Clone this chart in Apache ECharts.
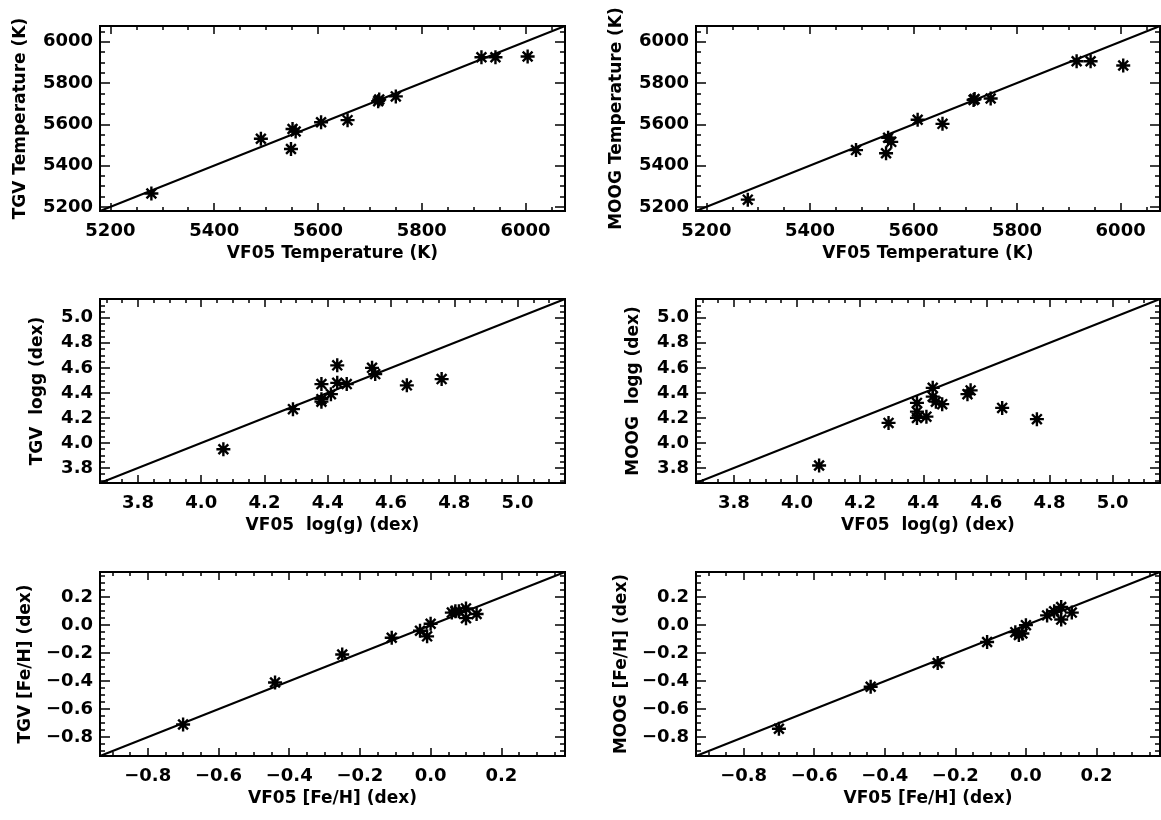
<!DOCTYPE html>
<html><head><meta charset="utf-8">
<script src="https://cdn.jsdelivr.net/npm/echarts@6/dist/echarts.min.js"></script>
<style>html,body{margin:0;padding:0;background:#fff}#c{width:1161px;height:820px}</style>
</head><body><div id="c"></div>
<script>
// ---- data ----
const teffVf05A = [5279, 5490, 5548, 5551, 5557, 5606, 5657, 5716, 5718, 5750, 5915, 5942, 6004];
const teffTgv   = [5265, 5530, 5480, 5577, 5565, 5610, 5620, 5712, 5720, 5735, 5925, 5925, 5928];
const teffVf05B = [5280, 5489, 5547, 5551, 5557, 5608, 5656, 5716, 5718, 5749, 5915, 5942, 6005];
const teffMoog  = [5235, 5475, 5460, 5535, 5515, 5622, 5602, 5718, 5722, 5725, 5905, 5905, 5885];

const loggVf05A = [4.07, 4.29, 4.38, 4.38, 4.38, 4.41, 4.43, 4.43, 4.46, 4.54, 4.55, 4.65, 4.76];
const loggTgv   = [3.95, 4.27, 4.47, 4.35, 4.33, 4.39, 4.62, 4.48, 4.47, 4.60, 4.55, 4.46, 4.51];
const loggVf05B = [4.07, 4.29, 4.38, 4.38, 4.38, 4.41, 4.43, 4.43, 4.44, 4.46, 4.54, 4.55, 4.65, 4.76];
const loggMoog  = [3.82, 4.16, 4.32, 4.25, 4.20, 4.21, 4.44, 4.37, 4.33, 4.31, 4.39, 4.42, 4.28, 4.19];

const fehVf05A = [-0.70, -0.44, -0.25, -0.11, -0.03, -0.01, 0.00, 0.06, 0.07, 0.08, 0.10, 0.10, 0.13];
const fehTgv   = [-0.71, -0.41, -0.21, -0.09, -0.04, -0.08, 0.01, 0.09, 0.10, 0.10, 0.12, 0.05, 0.08];
const fehVf05B = [-0.70, -0.44, -0.25, -0.11, -0.03, -0.02, -0.01, 0.00, 0.06, 0.08, 0.10, 0.10, 0.13];
const fehMoog  = [-0.74, -0.44, -0.27, -0.12, -0.05, -0.07, -0.06, 0.00, 0.07, 0.10, 0.13, 0.04, 0.09];

// axis ranges and tick labels
const teffRange = [5180, 6076];
const loggRange = [3.68, 5.15];
const fehRange  = [-0.935, 0.38];
const teffTicks = [5200, 5400, 5600, 5800, 6000];
const loggTicks = [3.8, 4.0, 4.2, 4.4, 4.6, 4.8, 5.0];
const fehTicks  = [-0.8, -0.6, -0.4, -0.2, 0.0, 0.2];
const teffMinorStep = 50, loggMinorStep = 0.05, fehMinorStep = 0.05;

// ---- build ----
const FONT = 'DejaVu Sans';
const STAR = 'path://M10,0L10,20M0,10L20,10M3,3L17,17M3,17L17,3';

function minorList(range, step) {
  const out = [];
  const start = Math.ceil(range[0] / step - 1e-9);
  const end = Math.floor(range[1] / step + 1e-9);
  for (let k = start; k <= end; k++) out.push(+(k * step).toFixed(6));
  return out;
}

const panels = [
  {left: 100, top: 26, width: 465, height: 185, range: teffRange, ticks: teffTicks, step: teffMinorStep, dec: 0,
   xs: teffVf05A, ys: teffTgv, xName: 'VF05 Temperature (K)', yName: 'TGV Temperature (K)', yGap: 71},
  {left: 696, top: 26, width: 464, height: 185, range: teffRange, ticks: teffTicks, step: teffMinorStep, dec: 0,
   xs: teffVf05B, ys: teffMoog, xName: 'VF05 Temperature (K)', yName: 'MOOG Temperature (K)', yGap: 71},
  {left: 100, top: 299, width: 465, height: 184, range: loggRange, ticks: loggTicks, step: loggMinorStep, dec: 1,
   xs: loggVf05A, ys: loggTgv, xName: 'VF05  log(g) (dex)', yName: 'TGV  logg (dex)', yGap: 54},
  {left: 696, top: 299, width: 464, height: 184, range: loggRange, ticks: loggTicks, step: loggMinorStep, dec: 1,
   xs: loggVf05B, ys: loggMoog, xName: 'VF05  log(g) (dex)', yName: 'MOOG  logg (dex)', yGap: 54},
  {left: 100, top: 572, width: 465, height: 184, range: fehRange, ticks: fehTicks, step: fehMinorStep, dec: 1,
   xs: fehVf05A, ys: fehTgv, xName: 'VF05 [Fe/H] (dex)', yName: 'TGV [Fe/H] (dex)', yGap: 66},
  {left: 696, top: 572, width: 464, height: 184, range: fehRange, ticks: fehTicks, step: fehMinorStep, dec: 1,
   xs: fehVf05B, ys: fehMoog, xName: 'VF05 [Fe/H] (dex)', yName: 'MOOG [Fe/H] (dex)', yGap: 66}
];

const grid = [], xAxis = [], yAxis = [], series = [];
const textStyle = {fontFamily: FONT, fontSize: 17, fontWeight: 'bold', color: '#000'};

panels.forEach((p, gi) => {
  grid.push({left: p.left, top: p.top, width: p.width, height: p.height, show: true,
             borderColor: '#000', borderWidth: 2, backgroundColor: 'transparent'});
  const minors = minorList(p.range, p.step);
  const fmt = v => Number(v).toFixed(p.dec).replace('-', '\u2212');
  function ax(dim, pos, ticks, len, withLabel) {
    const a = {
      type: 'value', gridIndex: gi, position: pos, min: p.range[0], max: p.range[1],
      axisLine: {show: false, onZero: false}, splitLine: {show: false},
      axisTick: {show: true, inside: true, length: len, customValues: ticks,
                 lineStyle: {color: '#000', width: 1.5}},
      axisLabel: {show: false}
    };
    if (withLabel) {
      a.axisLabel = Object.assign({show: true, customValues: p.ticks, formatter: fmt,
                    margin: dim === 'x' ? 11 : 7}, textStyle, {fontSize: 18});
      a.name = dim === 'x' ? p.xName : p.yName;
      a.nameLocation = 'middle';
      a.nameGap = dim === 'x' ? 34 : p.yGap;
      a.nameTextStyle = Object.assign({}, textStyle);
    }
    return a;
  }
  const xBase = xAxis.length, yBase = yAxis.length;
  xAxis.push(ax('x', 'bottom', p.ticks, 8, true));
  xAxis.push(ax('x', 'bottom', minors, 4, false));
  xAxis.push(ax('x', 'top', p.ticks, 8, false));
  xAxis.push(ax('x', 'top', minors, 4, false));
  yAxis.push(ax('y', 'left', p.ticks, 10, true));
  yAxis.push(ax('y', 'left', minors, 5, false));
  yAxis.push(ax('y', 'right', p.ticks, 10, false));
  yAxis.push(ax('y', 'right', minors, 5, false));

  series.push({
    type: 'line', xAxisIndex: xBase, yAxisIndex: yBase, silent: true,
    data: [[p.range[0], p.range[0]], [p.range[1], p.range[1]]],
    symbol: 'none', lineStyle: {color: '#000', width: 2}, clip: true, z: 2
  });
  series.push({
    type: 'scatter', xAxisIndex: xBase, yAxisIndex: yBase, silent: true,
    data: p.xs.map((x, i) => [x, p.ys[i]]),
    symbol: STAR, symbolSize: 14,
    itemStyle: {color: '#000', borderColor: '#000', borderWidth: 2.4, opacity: 1}, z: 3
  });
});

const chart = echarts.init(document.getElementById('c'), null, {renderer: 'canvas'});
chart.setOption({animation: false, backgroundColor: '#fff', grid, xAxis, yAxis, series});
</script>
</body></html>
